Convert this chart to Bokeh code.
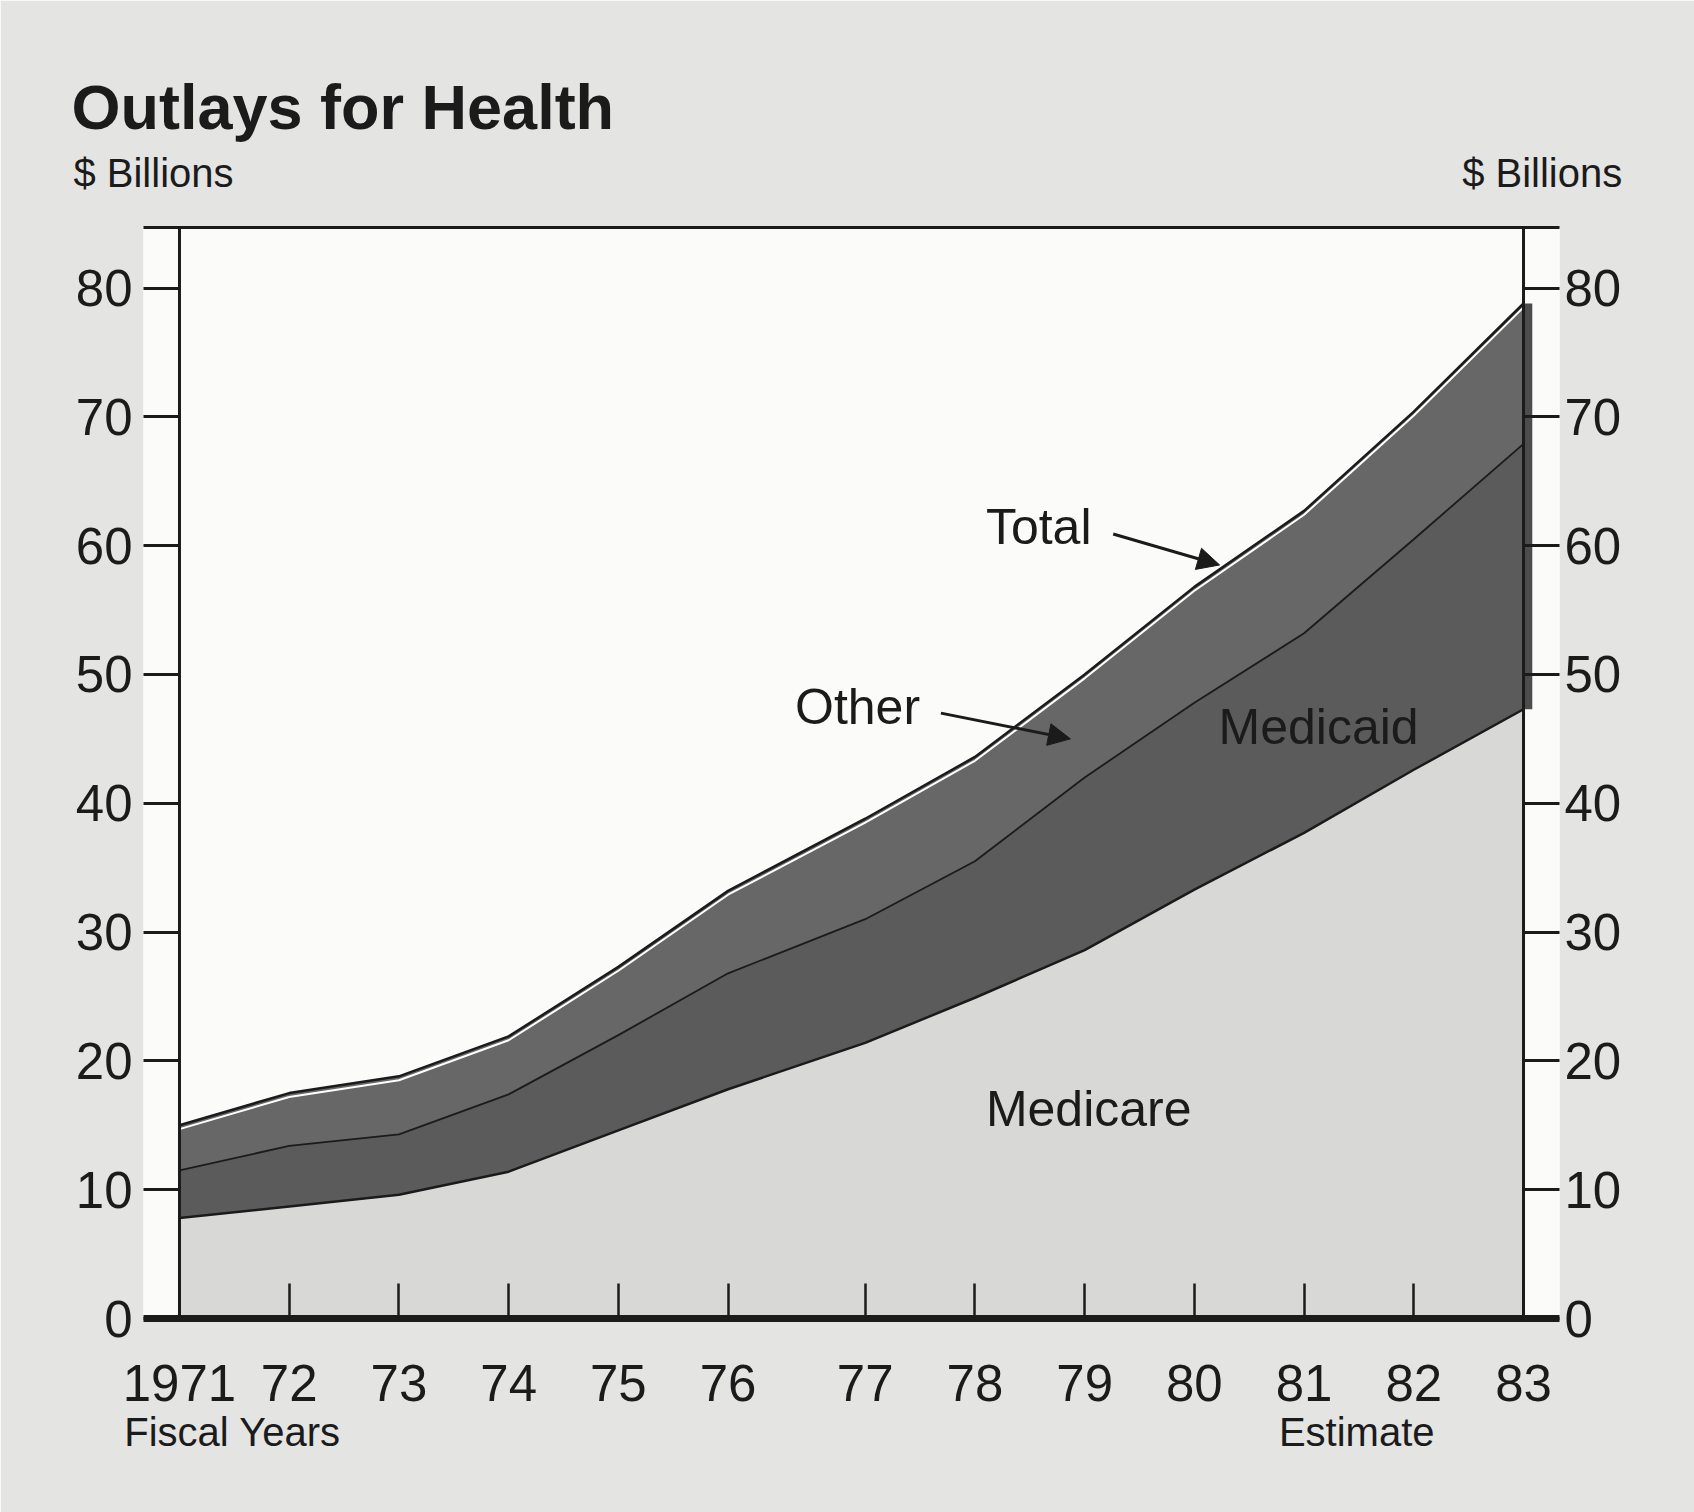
from bokeh.plotting import figure
from bokeh.models import (ColumnDataSource, Range1d, LinearAxis, FixedTicker, Span,
                          Label, Arrow, NormalHead)
from bokeh.transform import stack, dodge
from bokeh.embed import file_html
from bokeh.resources import INLINE

# ---------------- data ($ billions) ----------------
years = [1971, 1972, 1973, 1974, 1975, 1976, 1977, 1978, 1979, 1980, 1981, 1982, 1983]
year_labels = ["1971", "72", "73", "74", "75", "76", "77", "78", "79", "80", "81", "82", "83"]
medicare = [7.8, 8.7, 9.6, 11.4, 14.6, 17.8, 21.4, 24.9, 28.6, 33.3, 37.7, 42.6, 47.3]
medicaid = [3.7, 4.7, 4.7, 6.0, 7.4, 9.0, 9.6, 10.6, 13.4, 14.5, 15.5, 17.9, 20.6]
other = [3.5, 4.1, 4.5, 4.5, 5.3, 6.4, 7.8, 8.1, 8.0, 9.0, 9.5, 9.9, 10.9]
y_ticks = [0, 10, 20, 30, 40, 50, 60, 70, 80]

TITLE = "Outlays for Health"
UNIT = "$ Billions"
X_TITLE = "Fiscal Years"
EST_NOTE = "Estimate"

# fiscal-year change: a transition quarter sits between FY1976 and FY1977
TQ_YEAR = 1977
TQ_GAP = 0.25
pos = [y - years[0] + (TQ_GAP if y >= TQ_YEAR else 0.0) for y in years]
total = [a + b + c for a, b, c in zip(medicare, medicaid, other)]

# ---------------- styling ----------------
PAGE = "#e4e4e2"
FRAME = "#fbfbfa"
MEDICARE_C = "#d8d8d6"
MEDICAID_C = "#5b5b5b"
OTHER_C = "#676767"
INK = "#1b1b1b"
FONT = "Liberation Sans"
BASE_FIX = 0.37  # em: lift so the alphabetic baseline lands where intended

Y_END = 84.7
FRAME_H = 1091
PX_PER_Y = FRAME_H / Y_END
X_PAD = 0.328

p = figure(width=1694, height=1512, output_backend="svg", toolbar_location=None,
           x_range=Range1d(pos[0] - X_PAD, pos[-1] + X_PAD), y_range=Range1d(0, Y_END),
           min_border_left=143, min_border_right=135, min_border_top=227,
           min_border_bottom=194, title=TITLE)
p.background_fill_color = FRAME
p.border_fill_color = PAGE
p.outline_line_color = None
p.xgrid.visible = False
p.ygrid.visible = False

p.title.align = "left"
p.title.offset = -72
p.title.standoff = 11
p.title.text_font = FONT
p.title.text_font_style = "bold"
p.title.text_font_size = "63px"
p.title.text_color = INK

src = ColumnDataSource(dict(pos=pos, medicare=medicare, medicaid=medicaid, other=other, total=total))

p.varea_stack(["medicare", "medicaid", "other"], x="pos",
              color=[MEDICARE_C, MEDICAID_C, OTHER_C], source=src)
# printing shadow at the right edge of the dark bands
p.quad(left=[pos[-1]], right=[pos[-1] + 0.08], bottom=[medicare[-1]], top=[total[-1]],
       fill_color="#4c4c4c", line_color=None)

p.line("pos", dodge("total", -0.3), line_color="white", line_width=2, source=src)
p.line("pos", stack("medicare"), line_color=INK, line_width=2.5, source=src)
p.line("pos", stack("medicare", "medicaid"), line_color=INK, line_width=1.8, source=src)
p.line("pos", stack("medicare", "medicaid", "other"), line_color=INK, line_width=2.5, source=src)

p.add_layout(Span(location=pos[0], dimension="height", line_color=INK, line_width=3))
p.add_layout(Span(location=pos[-1], dimension="height", line_color=INK, line_width=3))


def style_y(ax, standoff):
    ax.ticker = FixedTicker(ticks=y_ticks)
    ax.axis_line_color = None
    ax.major_tick_in = 36
    ax.major_tick_out = 0
    ax.major_tick_line_width = 3
    ax.major_tick_line_color = INK
    ax.minor_tick_line_color = None
    ax.major_label_standoff = standoff
    ax.major_label_text_font = FONT
    ax.major_label_text_font_size = "51px"
    ax.major_label_text_color = INK


style_y(p.left[0], 11)
ra = LinearAxis()
style_y(ra, 5)
p.add_layout(ra, "right")

# bottom axis: fiscal years
xa = p.below[0]
xa.ticker = FixedTicker(ticks=pos)
xa.major_label_overrides = {x: lab for x, lab in zip(pos, year_labels)}
xa.axis_line_width = 7
xa.axis_line_color = INK
xa.major_tick_in = 35
xa.major_tick_out = 0
xa.major_tick_line_width = 2.5
xa.major_tick_line_color = INK
xa.minor_tick_line_color = None
xa.major_label_standoff = 46
xa.major_label_text_font = FONT
xa.major_label_text_font_size = "51px"
xa.major_label_text_color = INK


def text_axis(labels_at, standoff, size="40px"):
    ax = LinearAxis(ticker=FixedTicker(ticks=list(labels_at)))
    ax.major_label_overrides = dict(labels_at)
    ax.axis_line_color = None
    ax.major_tick_line_color = None
    ax.minor_tick_line_color = None
    ax.major_tick_in = 0
    ax.major_tick_out = 0
    ax.major_label_standoff = standoff
    ax.major_label_text_font = FONT
    ax.major_label_text_font_size = size
    ax.major_label_text_color = INK
    return ax


# top frame line, carrying the unit captions at both ends
ta = text_axis({-0.237: UNIT, 12.42: UNIT}, 33)
ta.axis_line_color = INK
ta.axis_line_width = 3
p.add_layout(ta, "above")

# second row under the years: axis caption and estimate note
p.add_layout(text_axis({0.483: X_TITLE, 10.73: EST_NOTE}, 6), "below")


def data_label(x, y, text, size=50):
    p.add_layout(Label(x=x, y=y + BASE_FIX * size / PX_PER_Y, text=text, text_font=FONT,
                       text_font_size=f"{size}px", text_color=INK,
                       text_align="left", text_baseline="alphabetic"))


data_label(7.35, 60.0, "Total")
data_label(5.61, 46.0, "Other")
data_label(9.47, 44.5, "Medicaid")
data_label(7.35, 14.8, "Medicare")

p.add_layout(Arrow(end=NormalHead(size=22, fill_color=INK, line_color=INK, line_width=1),
                   x_start=8.51, y_start=60.9, x_end=9.48, y_end=58.5,
                   line_color=INK, line_width=3))
p.add_layout(Arrow(end=NormalHead(size=22, fill_color=INK, line_color=INK, line_width=1),
                   x_start=6.94, y_start=47.0, x_end=8.12, y_end=45.0,
                   line_color=INK, line_width=3))

open("out.html", "w").write(file_html(p, INLINE))
